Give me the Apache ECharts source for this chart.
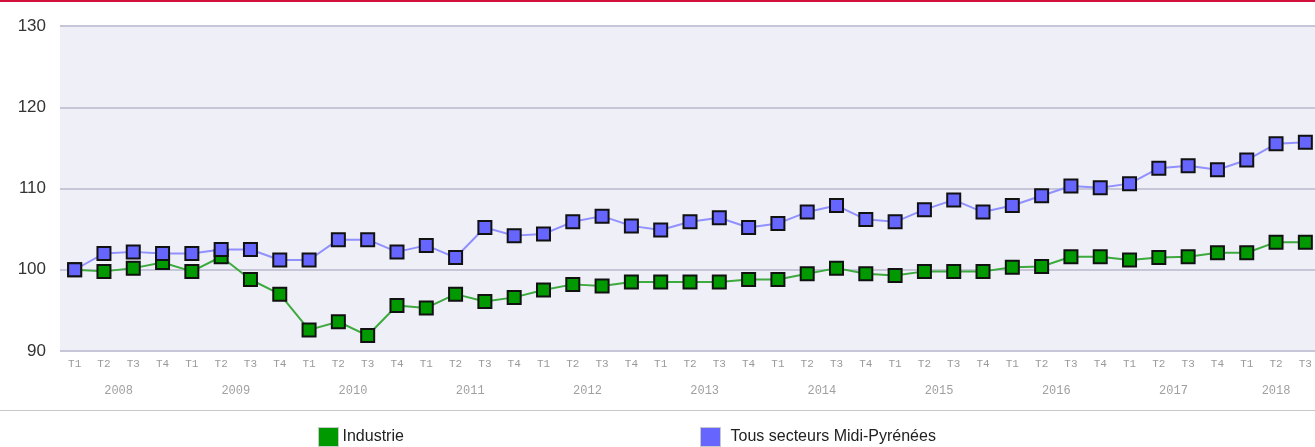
<!DOCTYPE html>
<html>
<head>
<meta charset="utf-8">
<script src="https://cdn.jsdelivr.net/npm/echarts@6/dist/echarts.min.js"></script>
<style>
  html, body { margin: 0; padding: 0; background: #fff; }
  #chart { width: 1315px; height: 447px; }
</style>
</head>
<body>
<div id="chart"></div>
<script>
  // trimestres 2008 T1 -> 2018 T3
  var years = ['2008', '2009', '2010', '2011', '2012', '2013', '2014', '2015', '2016', '2017', '2018']
  var quarters = ['T1', 'T2', 'T3', 'T4']
  var lastYearQuarters = 3

  var industrie = [
    100.0, 99.8, 100.2, 100.9,
    99.8, 101.6, 98.8, 97.0,
    92.6, 93.6, 91.9, 95.6,
    95.3, 97.0, 96.1, 96.6,
    97.5, 98.2, 98.0, 98.5,
    98.5, 98.5, 98.5, 98.8,
    98.8, 99.5, 100.2, 99.5,
    99.3, 99.8, 99.8, 99.8,
    100.3, 100.4, 101.6, 101.6,
    101.2, 101.5, 101.6, 102.1,
    102.1, 103.4, 103.4
  ]
  var tousSecteurs = [
    100.0, 102.0, 102.2, 102.0,
    102.0, 102.5, 102.5, 101.2,
    101.2, 103.7, 103.7, 102.2,
    103.0, 101.5, 105.2, 104.2,
    104.4, 105.9, 106.6, 105.4,
    104.9, 105.9, 106.4, 105.2,
    105.7, 107.1, 107.9, 106.2,
    105.9, 107.4, 108.6, 107.1,
    107.9, 109.1, 110.3, 110.1,
    110.6, 112.5, 112.8, 112.3,
    113.5, 115.5, 115.7
  ]

  // libellés de l'axe : T1..T4 répétés, et position centrale de chaque année
  var categories = []
  var yearCenters = []
  years.forEach(function (y, i) {
    var n = i === years.length - 1 ? lastYearQuarters : 4
    var start = categories.length
    for (var q = 0; q < n; q++) categories.push(quarters[q])
    yearCenters.push(start + (n - 1) / 2)
  })

  var myChart = echarts.init(document.getElementById('chart'))
  var gridColor = '#c6c6d8'
  var axisFont = '"Liberation Mono", "DejaVu Sans Mono", monospace'

  myChart.setOption({
    animation: false,
    graphic: [
      { type: 'rect', left: 0, top: 0, shape: { width: 1315, height: 2 }, style: { fill: '#d2103c' } },
      { type: 'rect', left: 0, top: 410, shape: { width: 1315, height: 1 }, style: { fill: '#c8c8c8' } }
    ],
    grid: {
      left: 60,
      top: 26,
      width: 1260,
      height: 325,
      show: true,
      backgroundColor: '#efeff8',
      borderWidth: 0,
      outerBoundsMode: 'none'
    },
    legend: [
      {
        left: 313, top: 422,
        data: ['Industrie'],
        icon: 'rect', itemWidth: 20, itemHeight: 19, itemGap: 0,
        itemStyle: { borderColor: '#c8c8c8', borderWidth: 1 },
        textStyle: { fontFamily: '"Liberation Sans", Arial, sans-serif', fontSize: 16, color: '#222', padding: [0, 0, 0, -1] }
      },
      {
        left: 695, top: 422,
        data: ['Tous secteurs Midi-Pyrénées'],
        icon: 'rect', itemWidth: 20, itemHeight: 19, itemGap: 0,
        itemStyle: { borderColor: '#c8c8c8', borderWidth: 1 },
        textStyle: { fontFamily: '"Liberation Sans", Arial, sans-serif', fontSize: 16, color: '#222', padding: [0, 0, 0, 5] }
      }
    ],
    xAxis: [
      {
        type: 'category',
        data: categories,
        boundaryGap: true,
        axisLine: { show: false },
        axisTick: { show: false },
        axisLabel: { interval: 0, margin: 8, fontSize: 11, color: '#9a9a9a', fontFamily: axisFont }
      },
      {
        type: 'value',
        min: -0.5,
        max: categories.length - 0.5,
        position: 'bottom',
        offset: 26,
        axisLine: { show: false },
        axisTick: { show: false },
        splitLine: { show: false },
        axisLabel: {
          customValues: yearCenters,
          margin: 8,
          fontSize: 12,
          color: '#a0a0a0',
          fontFamily: axisFont,
          formatter: function (v) {
            var i = yearCenters.indexOf(v)
            return i >= 0 ? years[i] : ''
          }
        }
      }
    ],
    yAxis: {
      type: 'value',
      min: 90,
      max: 130,
      interval: 10,
      axisLine: { show: false },
      axisTick: { show: false },
      axisLabel: { margin: 14, fontSize: 17, color: '#333', fontFamily: '"Liberation Sans", Arial, sans-serif' },
      splitLine: { lineStyle: { color: gridColor, width: 2 } }
    },
    series: [
      {
        name: 'Industrie',
        type: 'line',
        data: industrie,
        symbol: 'rect',
        symbolSize: 13,
        lineStyle: { color: '#3caa3c', width: 2 },
        itemStyle: { color: '#009900', borderColor: '#111', borderWidth: 2 }
      },
      {
        name: 'Tous secteurs Midi-Pyrénées',
        type: 'line',
        data: tousSecteurs,
        symbol: 'rect',
        symbolSize: 13,
        lineStyle: { color: '#9090ff', width: 2 },
        itemStyle: { color: '#6666ff', borderColor: '#111', borderWidth: 2 }
      }
    ]
  })
</script>
</body>
</html>
